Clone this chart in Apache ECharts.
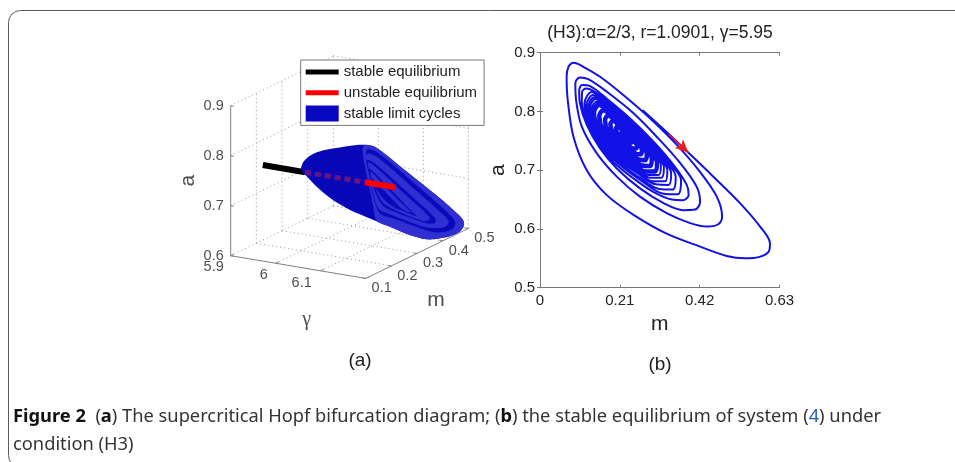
<!DOCTYPE html>
<html>
<head>
<meta charset="utf-8">
<style>html,body{margin:0;padding:0;background:#fff}#c{width:955px;height:462px}</style>
<script src="https://cdn.jsdelivr.net/npm/echarts@6/dist/echarts.min.js"></script>
</head>
<body>
<div id="c"></div>
<script>
// ---------- panel (b): phase trajectory ----------
const trajectoryM = [.270,.338,.390,.456,.526,.579,.605,.601,.575,.540,.491,.421,.333,.246,.175,.123,.088,.073,.070,.075,.089,.114,.158,.219,.290,.360,.421,.465,.479,.469,.439,.395,.333,.263,.202,.149,.110,.095,.093,.105,.127,.175,.246,.307,.369,.412,.421,.408,.377,.325,.263,.202,.158,.123,.105,.103,.111,.132,.175,.237,.298,.351,.386,.391,.377,.347,.298,.246,.193,.149,.123,.110,.111,.121,.140,
.176,.234,.290,.338,.371,.362,.325,.269,.193,.136,.117,.136,
.177,.230,.282,.327,.357,.349,.314,.263,.192,.140,.122,.140,
.178,.227,.275,.317,.345,.338,.305,.258,.192,.143,.127,.143,
.179,.225,.270,.309,.335,.329,.298,.254,.192,.146,.131,.146,
.180,.223,.265,.302,.326,.319,.291,.250,.193,.150,.135,.150,
.180,.221,.260,.295,.318,.312,.285,.246,.192,.152,.138,.152];
const trajectoryA = [.802,.762,.730,.689,.644,.604,.575,.561,.552,.550,.554,.570,.592,.624,.658,.700,.757,.819,.859,.876,.883,.876,.859,.828,.788,.743,.697,.655,.621,.608,.604,.610,.627,.655,.689,.729,.774,.819,.848,.858,.855,.834,.797,.757,.712,.672,.646,.633,.632,.644,.669,.703,.737,.777,.814,.836,.845,.843,.822,.788,.749,.709,.675,.658,.649,.650,.663,.686,.714,.749,.783,.817,.834,.839,.835,
.818,.787,.751,.714,.683,.659,.660,.681,.719,.768,.813,.833,
.814,.785,.752,.718,.689,.667,.668,.687,.722,.768,.810,.828,
.811,.785,.754,.722,.695,.675,.676,.694,.726,.769,.808,.824,
.809,.784,.755,.725,.700,.681,.681,.698,.729,.769,.805,.821,
.806,.783,.756,.728,.705,.687,.687,.703,.732,.769,.803,.817,
.804,.782,.757,.731,.709,.692,.692,.707,.734,.769,.801,.815];
// the tight inner turns merge into a solid core
const coreM = [.152,.181,.219,.255,.287,.308,.303,.278,.242,.192,.155,.142,.155,
.188,.219,.250,.277,.294,.290,.269,.239,.197,.166,.156,.166,
.197,.221,.246,.267,.281,.277,.261,.237,.204,.179,.171,.179,
.205,.223,.242,.258,.268,.265,.253,.235,.210,.192,.185,.192,
.213,.225,.237,.248,.255,.253,.245,.233,.216,.204,.200,.204,
.221,.227,.233,.239,.242,.241,.237,.231,.223,.217,.214,.217];
const coreA = [.815,.801,.781,.758,.734,.713,.698,.698,.712,.737,.769,.798,.811,
.794,.777,.758,.737,.720,.707,.708,.719,.740,.767,.792,.802,
.787,.773,.757,.741,.728,.717,.718,.727,.743,.765,.785,.793,
.779,.769,.757,.745,.735,.727,.728,.735,.747,.763,.778,.784,
.772,.765,.757,.749,.742,.737,.737,.742,.750,.761,.771,.775,
.764,.761,.757,.753,.750,.747,.747,.750,.754,.759,.764,.766];
const arrowStart = [.338,.762];
const arrowEnd = [.390,.730];
const panelBXTicks = [0,.21,.42,.63];
const panelBYTicks = [.5,.6,.7,.8,.9];

// ---------- panel (a): bifurcation diagram, values as (gamma, m, a) ----------
const gammaTicks = [5.9,6,6.1,6.2];
const mTicks = [.1,.2,.3,.4,.5];
const aTicks = [.6,.7,.8,.9];
const equilibriumM = .225;
const equilibriumA = .75;
const stableGamma = [5.9,5.994];
const hiddenUnstableGamma = [5.994,6.127];
const visibleUnstableGamma = [6.127,6.195];

// outline of the limit-cycle tube, one gamma per vertex
const tubeGamma = [6.19,6.19,6.19,6.19,6.19,6.19,6.19,6.19,6.19,6.19,6.19,6.19,6.19,6.19,6.19,6.19,6.12,6.08,6.04,6.0,5.99,5.99,5.995,6.01,6.05,6.1,6.15];
const tubeM = [.121,.158,.212,.277,.342,.407,.459,.492,.501,.488,.453,.407,.355,.290,.212,.134,.179,.184,.196,.221,.221,.216,.217,.219,.198,.175,.153];
const tubeA = [.860,.846,.810,.768,.725,.682,.645,.621,.607,.597,.596,.602,.613,.638,.674,.710,.705,.717,.732,.744,.751,.759,.773,.788,.809,.828,.846];

// nested limit cycles visible at the far end of the tube
const cycleGamma = 6.19;
const cycleM = [
 [.108,.158,.277,.407,.492,.501,.488,.453,.407,.355,.290,.212,.160,.147,.134,.115],
 [.121,.167,.316,.440,.466,.459,.427,.375,.225,.173,.147,.128],
 [.121,.162,.302,.420,.441,.430,.398,.346,.205,.168,.145,.126],
 [.121,.154,.277,.388,.388,.358,.238,.186,.154,.132],
 [.127,.155,.268,.366,.362,.338,.233,.186,.157,.137],
 [.131,.199,.297,.316,.284,.225,.186,.158,.137],
 [.137,.199,.285,.296,.270,.225,.186,.158,.142],
 [.141,.199,.258,.238,.193,.154]
];
const cycleA = [
 [.862,.846,.768,.682,.621,.607,.597,.596,.602,.613,.638,.674,.699,.730,.767,.818],
 [.850,.832,.731,.644,.620,.609,.610,.623,.687,.710,.750,.802],
 [.842,.826,.729,.646,.627,.620,.625,.640,.702,.721,.760,.805],
 [.830,.815,.728,.647,.638,.644,.696,.722,.758,.797],
 [.823,.808,.726,.655,.650,.654,.702,.728,.762,.794],
 [.811,.760,.683,.669,.683,.711,.737,.764,.789],
 [.803,.754,.689,.681,.692,.718,.743,.770,.785],
 [.788,.744,.696,.704,.732,.768]
];

// ---------- view of the 3-D box ----------
const VIEW = {x0:230.7,y0:255.7,gx:450,gy:75.7,mx:256.7,my:-125,az:-500};
function project(g,m,a){
  return [VIEW.x0+(g-5.9)*VIEW.gx+(m-.1)*VIEW.mx,
          VIEW.y0+(g-5.9)*VIEW.gy+(m-.1)*VIEW.my+(a-.6)*VIEW.az];
}
const BREAK = ['-','-'];
function segs(list){
  const out=[];
  list.forEach(s=>{out.push(project(...s[0]),project(...s[1]),BREAK);});
  return out;
}
const gMin=5.9,gMax=6.2,mMin=.1,mMax=.5,aMin=.6,aMax=.9;
const gridSegs=[];
aTicks.forEach(a=>{gridSegs.push([[gMin,mMin,a],[gMin,mMax,a]]);gridSegs.push([[gMin,mMax,a],[gMax,mMax,a]]);});
mTicks.slice(1).forEach(m=>{gridSegs.push([[gMin,m,aMin],[gMin,m,aMax]]);gridSegs.push([[gMin,m,aMin],[gMax,m,aMin]]);});
gammaTicks.slice(1).forEach(g=>{gridSegs.push([[g,mMax,aMin],[g,mMax,aMax]]);if(g<gMax)gridSegs.push([[g,mMin,aMin],[g,mMax,aMin]]);});
const axisSegs=[
  [[gMin,mMin,aMin],[gMin,mMin,aMax]],
  [[gMin,mMin,aMin],[gMax,mMin,aMin]],
  [[gMax,mMin,aMin],[gMax,mMax,aMin]]
];
aTicks.forEach(a=>axisSegs.push([[gMin,mMin,a],[gMin+.007,mMin,a]]));
gammaTicks.forEach(g=>axisSegs.push([[g,mMin,aMin],[g,mMin+.012,aMin]]));
mTicks.forEach(m=>axisSegs.push([[gMax,m,aMin],[gMax-.007,m,aMin]]));

const polys=[{fill:'#0808b8',pts:tubeM.map((m,i)=>[tubeGamma[i],m,tubeA[i]])}];
const bandFill=['#3030d2','#0a0abc','#3030d2','#0a0abc','#3030d2','#0a0abc','#3030d2','#0a0abc'];
cycleM.forEach((ms,k)=>polys.push({fill:bandFill[k],pts:ms.map((m,i)=>[cycleGamma,m,cycleA[k][i]])}));

function lab(pos,text,dx,dy,extra){
  return {value:pos,label:Object.assign({show:true,formatter:text,position:'inside',offset:[dx,dy],
    color:'#222',fontFamily:'Liberation Sans',fontSize:14.5,align:'center',verticalAlign:'middle'},extra||{})};
}
const labels3d=[];
aTicks.forEach(a=>labels3d.push(lab(project(gMin,mMin,a),a.toFixed(1),-17,0)));
[[5.9,-17,11],[6,-12,12],[6.1,-19,12]].forEach(t=>labels3d.push(lab(project(t[0],mMin,aMin),String(t[0]),t[1],t[2])));
mTicks.forEach(m=>labels3d.push(lab(project(gMax,m,aMin),m.toFixed(1),16,10)));
labels3d.push(lab(project(6.05,mMin,aMin),'γ',8.5,53,{fontSize:20,fontFamily:'Liberation Serif'}));
labels3d.push(lab(project(gMax,.3,aMin),'m',19,47,{fontSize:21}));
labels3d.push(lab(project(gMin,mMin,.75),'a',0,-42.7,{fontSize:21,rotate:90}));

const FONT='Liberation Sans';
const chart=echarts.init(document.getElementById('c'),null,{renderer:'canvas'});
const ICON_LINE='path://M0 0L0 0Z M0 5.5H33V10.5H0Z M0 16L0 16Z';
const ICON_FILL='path://M0 0H33V16H0Z';
const rows=(a,b)=>a.map((v,i)=>[v,b[i]]);
const capt=(text,x,y,size)=>({text,left:x,top:y,padding:0,textAlign:'center',textVerticalAlign:'middle',
  textStyle:{fontFamily:FONT,fontWeight:'normal',fontSize:size,color:'#222'}});

chart.setOption({
  animation:false,
  backgroundColor:'#fff',
  graphic:[{type:'rect',shape:{x:8.5,y:10.5,width:1000,height:457,r:12},style:{fill:'none',stroke:'#5a5a5a',lineWidth:1},silent:true}],
  title:[
    capt('(H3):α=2/3, r=1.0901, γ=5.95',660,33,17.5),
    capt('(a)',360,361,19),
    capt('(b)',660,365,19),
    {text:'{b|Figure 2}  ({b|a}) The supercritical Hopf bifurcation diagram; ({b|b}) the stable equilibrium of system ({l|4}) under\ncondition (H3)',
     left:13,top:403,padding:0,
     textStyle:{fontFamily:'Noto Sans',fontWeight:'normal',fontSize:18.3,lineHeight:28,color:'#333',
       rich:{b:{fontFamily:'Noto Sans',fontWeight:'bold',fontSize:18.3,color:'#111'},
             l:{fontFamily:'Noto Sans',fontSize:18.3,color:'#2a5db0'}}}}
  ],
  legend:{
    left:300.7,top:60,orient:'vertical',selectedMode:false,
    backgroundColor:'#fff',borderColor:'#777',borderWidth:1,padding:[4,7,4,5],
    itemWidth:33,itemHeight:16,itemGap:4.7,z:20,
    textStyle:{fontFamily:FONT,fontSize:15,color:'#222'},
    data:[
      {name:'stable equilibrium',icon:ICON_LINE,itemStyle:{color:'#000'}},
      {name:'unstable equilibrium',icon:ICON_LINE,itemStyle:{color:'#f00'}},
      {name:'stable limit cycles',icon:ICON_FILL,itemStyle:{color:'#0808c0'}}
    ]
  },
  grid:[
    {left:540,top:52.7,width:239.5,height:235,containLabel:false},
    {left:0,top:0,width:955,height:462}
  ],
  xAxis:[
    {gridIndex:0,type:'value',min:0,max:.63,interval:.21,name:'m',nameLocation:'middle',nameGap:23,
     nameTextStyle:{fontFamily:FONT,fontSize:21,color:'#222'},
     axisLine:{lineStyle:{color:'#777'}},axisTick:{inside:true,length:3,lineStyle:{color:'#777'}},splitLine:{show:false},
     axisLabel:{margin:6,fontFamily:FONT,fontSize:15,color:'#222',formatter:v=>v===panelBXTicks[0]?'0':v.toFixed(2),showMinLabel:true,showMaxLabel:true}},
    {gridIndex:0,type:'value',position:'top',min:0,max:.63,interval:.21,
     axisLine:{show:true,lineStyle:{color:'#777'}},axisTick:{show:true,inside:true,length:3,lineStyle:{color:'#777'}},axisLabel:{show:false},splitLine:{show:false}},
    {gridIndex:1,type:'value',min:0,max:955,show:false}
  ],
  yAxis:[
    {gridIndex:0,type:'value',min:.5,max:.9,interval:.1,name:'a',nameLocation:'middle',nameGap:31,
     nameTextStyle:{fontFamily:FONT,fontSize:21,color:'#222'},
     axisLine:{show:true,lineStyle:{color:'#777'}},axisTick:{show:true,inside:true,length:3,lineStyle:{color:'#777'}},splitLine:{show:false},
     axisLabel:{margin:5,fontFamily:FONT,fontSize:15,color:'#222',padding:[3,0,0,0],formatter:v=>v.toFixed(1)}},
    {gridIndex:0,type:'value',position:'right',min:.5,max:.9,interval:.1,
     axisLine:{show:true,lineStyle:{color:'#777'}},axisTick:{show:true,inside:true,length:3,lineStyle:{color:'#777'}},axisLabel:{show:false},splitLine:{show:false}},
    {gridIndex:1,type:'value',min:0,max:462,inverse:true,show:false}
  ],
  series:[
    {type:'line',name:'trajectory',xAxisIndex:0,yAxisIndex:0,data:rows(trajectoryM,trajectoryA),smooth:.33,showSymbol:false,symbol:'none',silent:true,
     lineStyle:{color:'#1212e6',width:2},
     markLine:{silent:true,symbol:['none','arrow'],symbolSize:[9,13],label:{show:false},
       lineStyle:{color:'#f01818',type:'solid',width:1.6},
       data:[[{coord:arrowStart},{coord:arrowEnd}]]}},
    {type:'line',name:'trajectory core',xAxisIndex:0,yAxisIndex:0,data:rows(coreM,coreA),smooth:.33,showSymbol:false,symbol:'none',silent:true,
     lineStyle:{color:'#1212e6',width:4.5}},
    {type:'line',name:'grid3d',xAxisIndex:2,yAxisIndex:2,data:segs(gridSegs),symbol:'none',silent:true,connectNulls:false,z:1,
     lineStyle:{color:'#999',width:1,type:[1,3]}},
    {type:'line',name:'axes3d',xAxisIndex:2,yAxisIndex:2,data:segs(axisSegs),symbol:'none',silent:true,connectNulls:false,z:2,
     lineStyle:{color:'#808080',width:1}},
    {type:'line',name:'stable equilibrium',xAxisIndex:2,yAxisIndex:2,z:3,symbol:'none',silent:true,
     data:stableGamma.map(g=>project(g,equilibriumM,equilibriumA)),itemStyle:{color:'#000'},lineStyle:{color:'#000',width:6,cap:'butt'}},
    {type:'custom',name:'stable limit cycles',xAxisIndex:2,yAxisIndex:2,z:4,silent:true,clip:false,
     itemStyle:{color:'#0808c0'},
     data:polys.map((p,i)=>[project(...p.pts[0])[0],project(...p.pts[0])[1],i]),
     encode:{x:0,y:1},
     renderItem:(params,api)=>{
       const p=polys[api.value(2)];
       return {type:'polygon',shape:{points:p.pts.map(q=>api.coord(project(...q))),smooth:.3},style:{fill:p.fill}};
     }},
    {type:'line',name:'unstable inside',xAxisIndex:2,yAxisIndex:2,z:5,symbol:'none',silent:true,
     data:hiddenUnstableGamma.map(g=>project(g,equilibriumM,equilibriumA)),
     lineStyle:{color:'#6a1480',width:5,type:[6,4]}},
    {type:'line',name:'unstable equilibrium',xAxisIndex:2,yAxisIndex:2,z:6,symbol:'none',silent:true,
     data:visibleUnstableGamma.map(g=>project(g,equilibriumM,equilibriumA)),itemStyle:{color:'#f00'},lineStyle:{color:'#f00',width:6,cap:'butt'}},
    {type:'scatter',name:'labels3d',xAxisIndex:2,yAxisIndex:2,z:7,silent:true,symbolSize:1,itemStyle:{color:'transparent'},data:labels3d}
  ]
});
</script>
</body>
</html>
